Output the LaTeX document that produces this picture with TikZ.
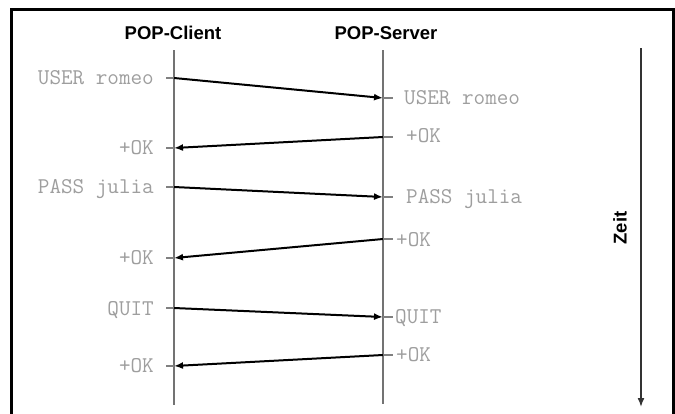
\documentclass[tikz,border=0pt]{standalone}
\usepackage{fontspec}
\setmainfont{Liberation Sans}
\usetikzlibrary{arrows.meta}
\begin{document}
\begin{tikzpicture}[x=1pt,y=-1pt,
  header/.style={font=\fontsize{18.5}{20}\selectfont\bfseries, inner sep=0pt, text height=13pt, text depth=0pt},
  msglabel/.style={font=\ttfamily\fontsize{22.5}{24}\selectfont, text=black!38, inner sep=0pt, text height=12pt, text depth=0pt},
  lifeline/.style={draw=black!55, line width=1.8pt},
  msg/.style={draw=black, line width=2pt, -{Latex[length=9pt,width=7pt]}},
  tickline/.style={draw=black!50, line width=1.3pt},
  timeaxis/.style={draw=black!80, line width=1.6pt, -{Latex[length=9pt,width=7pt]}}]
\useasboundingbox (0,0) rectangle (675,413);
\draw[line width=3pt] (11,414) -- (11,9.5) -- (673,9.5) -- (673,414);

% headers
\node[header] (client) at (173,33) {POP-Client};
\node[header] (server) at (386,33) {POP-Server};

% lifelines
\coordinate (ctop) at (174,50);
\coordinate (cbot) at (174,405);
\coordinate (stop) at (383,50);
\coordinate (sbot) at (383,404);
\draw[lifeline] (ctop) -- (cbot);
\draw[lifeline] (stop) -- (sbot);

% time axis
\coordinate (ttop) at (641,48);
\coordinate (tbot) at (641,407);
\draw[timeaxis] (ttop) -- (tbot);
\node[header, rotate=90] (zeit) at (620,228) {Zeit};

% message end points
\coordinate (c1) at (174,78);  \coordinate (s1) at (383,98);
\coordinate (c2) at (174,148); \coordinate (s2) at (383,137);
\coordinate (c3) at (174,187); \coordinate (s3) at (383,197);
\coordinate (c4) at (174,258); \coordinate (s4) at (383,239);
\coordinate (c5) at (174,308); \coordinate (s5) at (383,317);
\coordinate (c6) at (174,366); \coordinate (s6) at (383,355);

% ticks
\foreach \i in {1,...,6} {
  \draw[tickline] (c\i) -- ++(-8,0);
  \draw[tickline] (s\i) -- ++(10,0);
}

% messages
\draw[msg] (c1) -- (s1);
\draw[msg] (s2) -- (c2);
\draw[msg] (c3) -- (s3);
\draw[msg] (s4) -- (c4);
\draw[msg] (c5) -- (s5);
\draw[msg] (s6) -- (c6);

% client labels
\node[msglabel, anchor=east] (lc1) at (154,78) {USER romeo};
\node[msglabel, anchor=east] (lc2) at (154,148) {+OK};
\node[msglabel, anchor=east] (lc3) at (154,187) {PASS julia};
\node[msglabel, anchor=east] (lc4) at (154,258) {+OK};
\node[msglabel, anchor=east] (lc5) at (154,309) {QUIT};
\node[msglabel, anchor=east] (lc6) at (154,366) {+OK};

% server labels
\node[msglabel, anchor=west] (ls1) at (404,98) {USER romeo};
\node[msglabel, anchor=west] (ls2) at (406,136) {+OK};
\node[msglabel, anchor=west] (ls3) at (406,197) {PASS julia};
\node[msglabel, anchor=west] (ls4) at (396,240) {+OK};
\node[msglabel, anchor=west] (ls5) at (395,317) {QUIT};
\node[msglabel, anchor=west] (ls6) at (396,355) {+OK};
\end{tikzpicture}
\end{document}
